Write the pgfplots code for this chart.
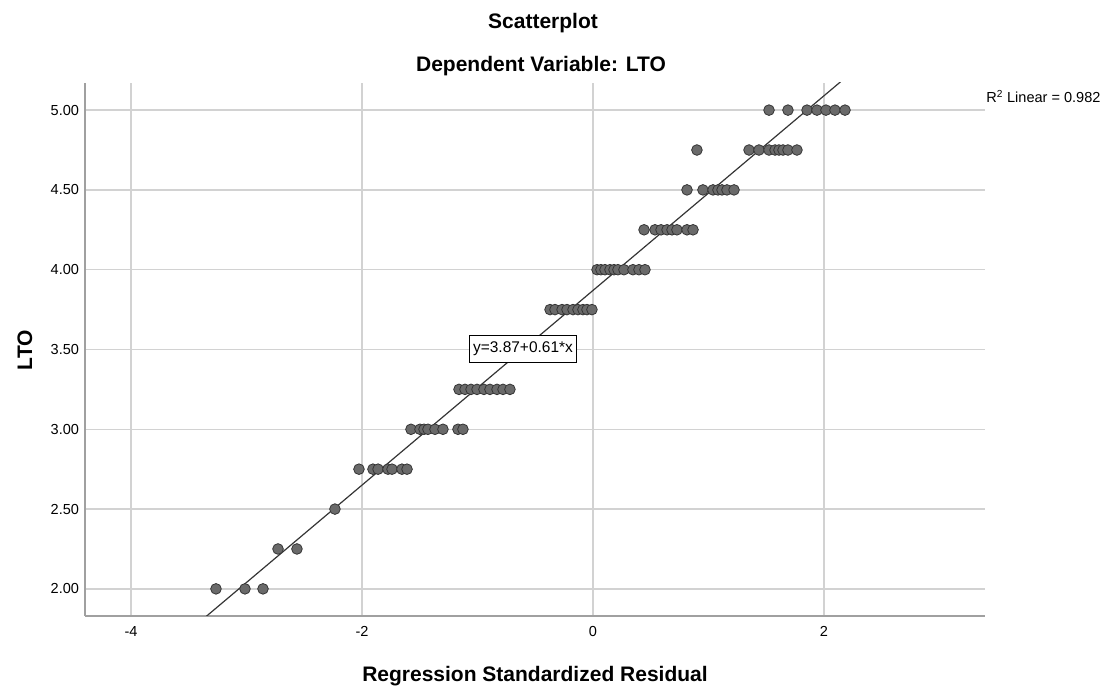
\documentclass[border=0pt]{standalone}
\usepackage{pgfplots}
\pgfplotsset{compat=1.18}
\usepackage{fontspec}
\setmainfont{Liberation Sans}
\definecolor{mkfill}{HTML}{6A6A6A}
\definecolor{mkedge}{HTML}{353535}
\definecolor{gridc}{HTML}{D2D2D2}
\definecolor{spinec}{HTML}{A0A0A0}
\begin{document}
\begin{tikzpicture}[x=1pt,y=1pt]
\useasboundingbox (0,0) rectangle (831.75,518.25);
\begin{axis}[
  at={(63.75pt,56.25pt)}, anchor=south west,
  scale only axis, width=675pt, height=399.75pt,
  xmin=-4.398, xmax=3.394, ymin=1.83, ymax=5.17,
  axis lines*=left,
  axis line style={-, spinec, line width=1.4pt},
  xtick={-4,-2,0,2}, ytick={2,2.5,3,3.5,4,4.5,5},
  yticklabel style={/pgf/number format/fixed, /pgf/number format/fixed zerofill, /pgf/number format/precision=2, xshift=-1pt},
  /pgf/number format/assume math mode=true,
  major tick length=0pt,
  tick label style={font=\fontsize{10.9}{13}\selectfont},
  xticklabel style={yshift=-4pt},
  grid=major,
  major grid style={gridc, line width=1.1pt},
  clip=true,
]
\addplot[mkedge, line width=0.9pt] coordinates {(-4.4,1.186) (3.4,5.944)};
\addplot[only marks, mark=*, mark size=4pt, mark options={fill=mkfill, draw=mkedge, line width=0.6pt}] coordinates {
(1.524,5) (1.688,5) (1.853,5) (1.939,5) (2.017,5) (2.095,5) (2.182,5)
(0.900,4.75) (1.351,4.75) (1.437,4.75) (1.524,4.75) (1.576,4.75) (1.610,4.75) (1.645,4.75) (1.688,4.75) (1.766,4.75)
(0.814,4.5) (0.952,4.5) (1.039,4.5) (1.082,4.5) (1.117,4.5) (1.160,4.5) (1.221,4.5)
(0.442,4.25) (0.537,4.25) (0.589,4.25) (0.641,4.25) (0.684,4.25) (0.727,4.25) (0.814,4.25) (0.866,4.25)
(0.035,4) (0.069,4) (0.104,4) (0.147,4) (0.182,4) (0.216,4) (0.268,4) (0.346,4) (0.398,4) (0.450,4)
(-0.372,3.75) (-0.329,3.75) (-0.268,3.75) (-0.225,3.75) (-0.173,3.75) (-0.130,3.75) (-0.087,3.75) (-0.052,3.75) (-0.009,3.75)
(-1.160,3.25) (-1.108,3.25) (-1.056,3.25) (-1.004,3.25) (-0.944,3.25) (-0.892,3.25) (-0.831,3.25) (-0.779,3.25) (-0.719,3.25)
(-1.576,3) (-1.498,3) (-1.463,3) (-1.429,3) (-1.368,3) (-1.299,3) (-1.169,3) (-1.126,3)
(-2.026,2.75) (-1.905,2.75) (-1.861,2.75) (-1.775,2.75) (-1.740,2.75) (-1.654,2.75) (-1.610,2.75)
(-2.234,2.5)
(-2.727,2.25) (-2.563,2.25)
(-3.264,2) (-3.013,2) (-2.857,2)
};
\node[draw=black, fill=white, line width=0.7pt, inner xsep=2.5pt, inner ysep=5pt, font=\fontsize{11.6}{13}\selectfont] at (axis cs:-0.606,3.503) {y=3.87+0.61*x};
\end{axis}
\node[anchor=base, font=\fontsize{15.75}{18}\selectfont\bfseries] at (407.25,496.5) {Scatterplot};
\node[anchor=base, font=\fontsize{15.75}{18}\selectfont\bfseries] at (405.75,464.25) {Dependent Variable: LTO};
\node[anchor=base, rotate=90, font=\fontsize{15.75}{18}\selectfont\bfseries] at (24,255.75) {LTO};
\node[anchor=base, font=\fontsize{15.75}{18}\selectfont\bfseries] at (401.25,6.75) {Regression Standardized Residual};
\node[anchor=base west, inner sep=0pt, font=\fontsize{10.9}{13}\selectfont] at (739.5,441) {R\textsuperscript{2} Linear = 0.982};
\end{tikzpicture}
\end{document}
